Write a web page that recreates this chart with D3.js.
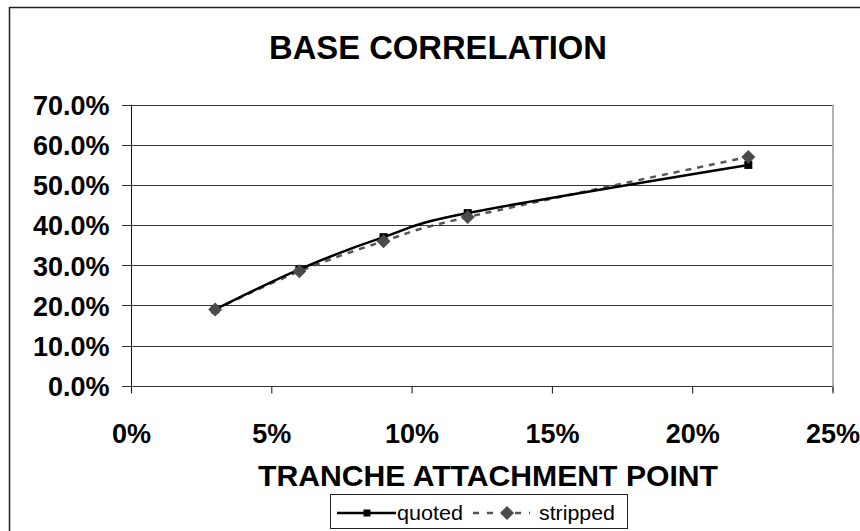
<!DOCTYPE html>
<html>
<head>
<meta charset="utf-8">
<script src="https://cdn.jsdelivr.net/npm/d3@7"></script>
<style>
  html, body { margin: 0; padding: 0; background: #fff; }
  svg { display: block; font-family: "Liberation Sans", Arial, sans-serif; }
</style>
</head>
<body>
<svg id="chart" width="860" height="531"></svg>
<script>
// Tranche attachment points (fraction) and base correlations
const attachment = [0.03, 0.06, 0.09, 0.12, 0.22];
const quoted     = [0.19, 0.29, 0.37, 0.43, 0.55];
const stripped   = [0.19, 0.285, 0.36, 0.42, 0.57];

const yTicks = [0, 0.1, 0.2, 0.3, 0.4, 0.5, 0.6, 0.7];
const xTicks = [0, 0.05, 0.10, 0.15, 0.20, 0.25];

const titleText = "BASE CORRELATION";
const xTitleText = "TRANCHE ATTACHMENT POINT";
const seriesNames = ["quoted", "stripped"];

const svg = d3.select("#chart");

const plot = { left: 131, right: 832.5, top: 104.7, bottom: 385.7 };

const x = d3.scaleLinear().domain([0, 0.25]).range([plot.left, plot.right]);
const y = d3.scaleLinear().domain([0, 0.7]).range([plot.bottom, plot.top]);

// outer chart frame (only left and top edges fall inside the canvas)
svg.append("rect")
  .attr("x", 9.5).attr("y", 7.5)
  .attr("width", 900).attr("height", 600)
  .attr("fill", "none").attr("stroke", "#222").attr("stroke-width", 1.5);

// title
svg.append("text")
  .attr("x", 438).attr("y", 59)
  .attr("text-anchor", "middle")
  .attr("font-size", 34).attr("font-weight", "bold")
  .attr("textLength", 338).attr("lengthAdjust", "spacingAndGlyphs")
  .text(titleText);

// horizontal gridlines
svg.append("g").selectAll("line")
  .data(yTicks)
  .join("line")
  .attr("x1", plot.left - 9).attr("x2", plot.right)
  .attr("y1", d => Math.round(y(d)) + 0.5).attr("y2", d => Math.round(y(d)) + 0.5)
  .attr("stroke", "#333").attr("stroke-width", 1);

// right plot border
svg.append("line")
  .attr("x1", plot.right + 0.5).attr("x2", plot.right + 0.5)
  .attr("y1", plot.top).attr("y2", plot.bottom + 6)
  .attr("stroke", "#999").attr("stroke-width", 1.5);

// y axis
const yAxis = d3.axisLeft(y).tickValues(yTicks).tickSize(0).tickPadding(22)
  .tickFormat(d3.format(".1%"));
const gy = svg.append("g").attr("transform", `translate(${plot.left + 0.5},0)`).call(yAxis);
gy.select(".domain").attr("stroke", "#111").attr("stroke-width", 1)
  .attr("d", `M0,${plot.top}V${plot.bottom + 4}`);
gy.selectAll("text")
  .attr("font-size", 27).attr("font-weight", "bold")
  .attr("font-family", "Liberation Sans, Arial, sans-serif")
  .attr("fill", "#000").attr("dy", "0.36em");

// x axis
const xAxis = d3.axisBottom(x).tickValues(xTicks).tickSize(7).tickPadding(30)
  .tickFormat(d3.format(".0%"));
const gx = svg.append("g").attr("transform", `translate(0,${Math.round(plot.bottom) + 0.5})`).call(xAxis);
gx.select(".domain").remove();
gx.selectAll(".tick line").attr("stroke", "#111");
gx.selectAll("text")
  .attr("font-size", 27).attr("font-weight", "bold")
  .attr("font-family", "Liberation Sans, Arial, sans-serif")
  .attr("fill", "#000");

// x axis title
svg.append("text")
  .attr("x", 488).attr("y", 486)
  .attr("text-anchor", "middle")
  .attr("font-size", 30).attr("font-weight", "bold")
  .attr("textLength", 460).attr("lengthAdjust", "spacingAndGlyphs")
  .text(xTitleText);

// series lines (smoothed)
const line = d3.line()
  .x(d => x(d[0])).y(d => y(d[1]))
  .curve(d3.curveCardinal.tension(0));

const quotedPts = attachment.map((a, i) => [a, quoted[i]]);
const strippedPts = attachment.map((a, i) => [a, stripped[i]]);

svg.append("path")
  .datum(strippedPts)
  .attr("d", line)
  .attr("fill", "none").attr("stroke", "#555")
  .attr("stroke-width", 2.5).attr("stroke-dasharray", "6,6");

svg.append("path")
  .datum(quotedPts)
  .attr("d", line)
  .attr("fill", "none").attr("stroke", "#000")
  .attr("stroke-width", 2.5);

// markers
svg.append("g").selectAll("rect")
  .data(quotedPts)
  .join("rect")
  .attr("x", d => x(d[0]) - 4).attr("y", d => y(d[1]) - 4)
  .attr("width", 8).attr("height", 8)
  .attr("fill", "#000");

const diamond = (cx, cy, r) => `M${cx},${cy - r}L${cx + r},${cy}L${cx},${cy + r}L${cx - r},${cy}Z`;

svg.append("g").selectAll("path")
  .data(strippedPts)
  .join("path")
  .attr("d", d => diamond(x(d[0]), y(d[1]), 7))
  .attr("fill", "#4a4a4a");

// legend
const lg = svg.append("g");
lg.append("rect")
  .attr("x", 330.5).attr("y", 494.5).attr("width", 297).attr("height", 34)
  .attr("fill", "#fff").attr("stroke", "#222").attr("stroke-width", 1);

const ly = 513;
lg.append("line").attr("x1", 337).attr("x2", 396).attr("y1", ly).attr("y2", ly)
  .attr("stroke", "#000").attr("stroke-width", 2.5);
lg.append("rect").attr("x", 363.5).attr("y", ly - 3.5).attr("width", 7).attr("height", 7)
  .attr("fill", "#000");
lg.append("text").attr("x", 397).attr("y", ly + 7)
  .attr("font-size", 20).attr("textLength", 66).attr("lengthAdjust", "spacingAndGlyphs")
  .text(seriesNames[0]);

lg.append("line").attr("x1", 473).attr("x2", 530).attr("y1", ly).attr("y2", ly)
  .attr("stroke", "#555").attr("stroke-width", 2.5).attr("stroke-dasharray", "6,8");
lg.append("path").attr("d", diamond(507, ly, 7)).attr("fill", "#4a4a4a");
lg.append("text").attr("x", 539).attr("y", ly + 7)
  .attr("font-size", 20).attr("textLength", 76).attr("lengthAdjust", "spacingAndGlyphs")
  .text(seriesNames[1]);
</script>
</body>
</html>
